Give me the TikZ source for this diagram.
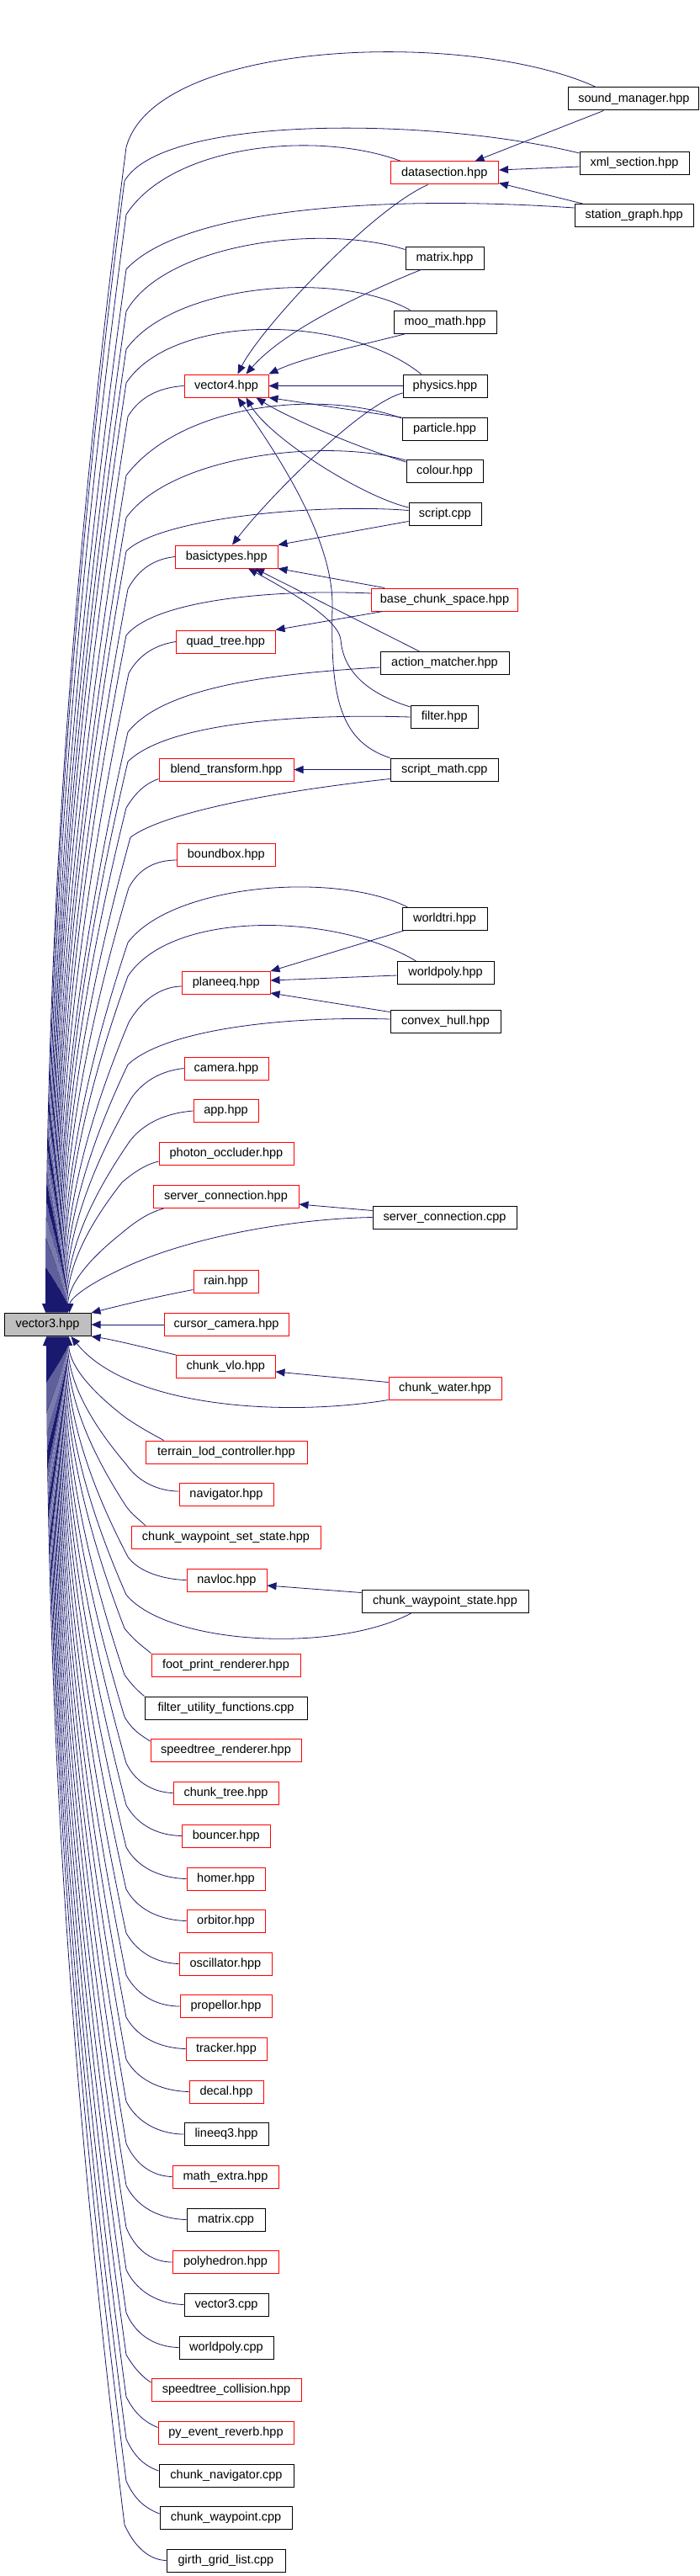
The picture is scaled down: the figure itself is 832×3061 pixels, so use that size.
\documentclass[tikz,border=0pt]{standalone}
\usepackage{fontspec}
\setmainfont{Liberation Sans}
\usetikzlibrary{arrows.meta,calc}
\definecolor{edgeblue}{HTML}{191970}
\definecolor{boxgray}{HTML}{BFBFBF}
% edge to vector3: #1 start, #2 c1, #3 c2, #4 Bx, #5 By, #6 Ex
\newcommand\toV[6]{%
  \ifdim #5pt<1574pt \def\tvEy{1560}\def\tvAnc{north west}\else\def\tvEy{1588}\def\tvAnc{south west}\fi
  \pgfmathsetmacro\tvPax{#4+0.75*(#6-#4)}%
  \pgfmathsetmacro\tvPay{#5+0.4*(\tvEy-#5)}%
  \pgfmathsetmacro\tvPby{\tvEy-0.3*(\tvEy-#5)}%
  \pgfmathsetmacro\tvXs{#6-5}%
  \draw[dep] #1 .. controls #2 and #3 .. (#4,#5) .. controls (\tvPax,\tvPay) and (#6,\tvPby) .. ([xshift=\tvXs pt]v3.\tvAnc);
}
\begin{document}
\begin{tikzpicture}[x=1pt,y=-1pt,
  box/.style={line width=1pt, inner sep=0pt, minimum height=27pt, font=\fontsize{14.5pt}{17pt}\selectfont},
  rbox/.style={box, draw=red, fill=white},
  bbox/.style={box, draw=black, fill=white},
  gbox/.style={box, draw=black, fill=boxgray},
  dep/.style={draw=edgeblue, line width=0.8pt, -{Triangle[length=11pt,width=9pt]}}]
\useasboundingbox (0,0) rectangle (832,3061);
% ---------- nodes ----------
\node[bbox, minimum width=155pt] (sm) at (753.4,117.5) {sound\_manager.hpp};
\node[bbox, minimum width=130pt] (xs) at (754,194) {xml\_section.hpp};
\node[rbox, minimum width=128.5pt] (ds) at (528.25,205.5) {datasection.hpp};
\node[bbox, minimum width=141.5pt] (sg) at (753.75,256) {station\_graph.hpp};
\node[bbox, minimum width=93pt] (mh) at (528.5,306.5) {matrix.hpp};
\node[bbox, minimum width=122pt] (mm) at (529,382.5) {moo\_math.hpp};
\node[rbox, minimum width=100pt] (v4) at (269,458.5) {vector4.hpp};
\node[bbox, minimum width=100pt] (ph) at (529,458.5) {physics.hpp};
\node[bbox, minimum width=101pt] (pa) at (528.5,510) {particle.hpp};
\node[bbox, minimum width=91pt] (co) at (528.5,560) {colour.hpp};
\node[bbox, minimum width=86pt] (sc) at (529,610.5) {script.cpp};
\node[rbox, minimum width=121.5pt] (bt) at (269.25,661.5) {basictypes.hpp};
\node[rbox, minimum width=174pt] (bcs) at (528.5,712.5) {base\_chunk\_space.hpp};
\node[rbox, minimum width=117.4pt] (qt) at (268.3,762.5) {quad\_tree.hpp};
\node[bbox, minimum width=153pt] (am) at (528.5,788) {action\_matcher.hpp};
\node[bbox, minimum width=80.5pt] (fi) at (528.25,852) {filter.hpp};
\node[rbox, minimum width=160pt] (bl) at (269,914.5) {blend\_transform.hpp};
\node[bbox, minimum width=128.5pt] (smc) at (528.25,914.5) {script\_math.cpp};
\node[rbox, minimum width=116.3pt] (bb) at (268.85,1016) {boundbox.hpp};
\node[bbox, minimum width=101pt] (wt) at (528.5,1092) {worldtri.hpp};
\node[bbox, minimum width=115pt] (wph) at (529.5,1156) {worldpoly.hpp};
\node[rbox, minimum width=104.5pt] (pq) at (268.75,1168) {planeeq.hpp};
\node[bbox, minimum width=131pt] (ch) at (529.5,1213.5) {convex\_hull.hpp};
\node[rbox, minimum width=100pt] (ca) at (269,1269.5) {camera.hpp};
\node[rbox, minimum width=77pt] (app) at (268.5,1320) {app.hpp};
\node[rbox, minimum width=160pt] (po) at (269,1370.5) {photon\_occluder.hpp};
\node[rbox, minimum width=173pt] (sch) at (268.5,1422) {server\_connection.hpp};
\node[bbox, minimum width=171pt] (scc) at (528.5,1446.5) {server\_connection.cpp};
\node[rbox, minimum width=77pt] (rain) at (268.5,1522.5) {rain.hpp};
\node[gbox, minimum width=103pt] (v3) at (56.5,1574) {vector3.hpp};
\node[rbox, minimum width=148pt] (cc) at (269,1574) {cursor\_camera.hpp};
\node[rbox, minimum width=117.4pt] (cv) at (268.3,1624) {chunk\_vlo.hpp};
\node[rbox, minimum width=134pt] (cw) at (529,1649.5) {chunk\_water.hpp};
\node[rbox, minimum width=192pt] (tl) at (269,1725.5) {terrain\_lod\_controller.hpp};
\node[rbox, minimum width=112pt] (nv) at (269,1776) {navigator.hpp};
\node[rbox, minimum width=225pt] (cwss) at (268.5,1826.5) {chunk\_waypoint\_set\_state.hpp};
\node[rbox, minimum width=95pt] (nl) at (269.5,1877.5) {navloc.hpp};
\node[bbox, minimum width=198pt] (cws) at (529,1902.5) {chunk\_waypoint\_state.hpp};
\node[rbox, minimum width=177pt] (fp) at (268.5,1978.5) {foot\_print\_renderer.hpp};
\node[bbox, minimum width=193pt] (fu) at (268.5,2029.5) {filter\_utility\_functions.cpp};
\node[rbox, minimum width=179pt] (sr) at (268.5,2080) {speedtree\_renderer.hpp};
\node[rbox, minimum width=125pt] (ct) at (268.5,2130.5) {chunk\_tree.hpp};
\node[rbox, minimum width=104.5pt] (bo) at (268.75,2181.5) {bouncer.hpp};
\node[rbox, minimum width=93pt] (ho) at (268.5,2232.5) {homer.hpp};
\node[rbox, minimum width=93pt] (or) at (268.5,2282.5) {orbitor.hpp};
\node[rbox, minimum width=110pt] (os) at (268,2333.5) {oscillator.hpp};
\node[rbox, minimum width=109pt] (pp) at (268.5,2384) {propellor.hpp};
\node[rbox, minimum width=96pt] (tr) at (269,2434.5) {tracker.hpp};
\node[rbox, minimum width=88pt] (de) at (269,2485.5) {decal.hpp};
\node[bbox, minimum width=100pt] (le) at (269,2536) {lineeq3.hpp};
\node[rbox, minimum width=126pt] (me) at (268,2586.5) {math\_extra.hpp};
\node[bbox, minimum width=93pt] (mc) at (268.5,2637.5) {matrix.cpp};
\node[rbox, minimum width=126pt] (py) at (268,2688) {polyhedron.hpp};
\node[bbox, minimum width=100pt] (vc) at (269,2738.5) {vector3.cpp};
\node[bbox, minimum width=112pt] (wpc) at (269,2789.5) {worldpoly.cpp};
\node[rbox, minimum width=178pt] (stc) at (269,2840) {speedtree\_collision.hpp};
\node[rbox, minimum width=161pt] (pe) at (268.5,2890.5) {py\_event\_reverb.hpp};
\node[bbox, minimum width=160pt] (cn) at (269,2942) {chunk\_navigator.cpp};
\node[bbox, minimum width=157pt] (cwp) at (268.5,2992) {chunk\_waypoint.cpp};
\node[bbox, minimum width=141pt] (gg) at (268.5,3042.5) {girth\_grid\_list.cpp};
% ---------- edges between other nodes ----------
\draw[dep] ([xshift=42pt]sm.south west) -- ([xshift=101pt]ds.north west);
\draw[dep] ([yshift=-4pt]xs.west) -- ([yshift=3.5pt]ds.east);
\draw[dep] ([xshift=10pt]sg.north west) -- ([yshift=2pt]ds.south east);
\draw[dep] ([xshift=45pt]ds.south west) .. controls (440,250) and (310,390) .. ([xshift=64pt]v4.north west);
\draw[dep] ([xshift=19pt]mh.south west) .. controls (440,345) and (340,390) .. ([xshift=74pt]v4.north west);
\draw[dep] ([xshift=15pt]mm.south west) .. controls (430,410) and (360,425) .. (v4.north east);
\draw[dep] (ph.west) -- (v4.east);
\draw[dep] (pa.north west) -- (v4.south east);
\draw[dep] ([yshift=-3pt]co.north west) .. controls (420,530) and (340,495) .. ([xshift=86pt]v4.south west);
\draw[dep] ([yshift=7.5pt]sc.west) .. controls (430,590) and (320,520) .. ([xshift=74pt]v4.south west);
\draw[dep] (smc.north west) .. controls (400,880) and (393,820) .. (395,720) .. controls (396,640) and (330,540) .. ([xshift=64pt]v4.south west);
\draw[dep] ([yshift=-8.5pt]ph.west) .. controls (430,480) and (320,590) .. ([xshift=68pt]bt.north west);
\draw[dep] ([yshift=5pt]sc.south west) -- (bt.north east);
\draw[dep] ([xshift=16pt]bcs.north west) -- (bt.south east);
\draw[dep] ([xshift=47pt]am.north west) -- ([xshift=95pt]bt.south west);
\draw[dep] ([yshift=-2pt]fi.north west) .. controls (440,825) and (408,800) .. (405,760) .. controls (402,735) and (340,700) .. ([xshift=87pt]bt.south west);
\draw[dep] ([xshift=14pt]bcs.south west) -- (qt.north east);
\draw[dep] (smc.west) -- (bl.east);
\draw[dep] ([xshift=2pt]wt.south west) -- (pq.north east);
\draw[dep] ([yshift=-3pt]wph.west) -- ([yshift=3pt]pq.east);
\draw[dep] ([yshift=-3pt]ch.north west) -- ([yshift=2pt]pq.south east);
\draw[dep] ([yshift=-6pt]scc.north west) -- ([yshift=5pt]sch.south east);
\draw[dep] ([yshift=-7pt]cw.north west) -- ([yshift=-6pt]cv.east);
\draw[dep] ([yshift=-4pt]cws.north west) -- ([yshift=-6.5pt]nl.east);
% ---------- edges to vector3 (from above) ----------
\toV{([xshift=33pt]sm.north west)}{(560,35)}{(185,45)}{150}{175}{55}
\toV{([yshift=-2pt]xs.north west)}{(520,140)}{(195,135)}{148}{215}{56}
\toV{([xshift=13pt]ds.north west)}{(380,155)}{(205,170)}{150}{255}{57}
\toV{([yshift=-5pt]sg.north west)}{(470,232)}{(220,245)}{150}{320}{58}
\toV{([yshift=-4pt]mh.north west)}{(380,265)}{(195,290)}{150}{370}{59}
\toV{([xshift=20pt]mm.north west)}{(400,320)}{(205,338)}{150}{415}{60}
\toV{([xshift=22pt]ph.north west)}{(410,372)}{(205,372)}{150}{455}{61}
\toV{(v4.west)}{(195,460)}{(168,468)}{152}{495}{62}
\toV{([yshift=-1pt]pa.north west)}{(380,462)}{(215,480)}{150}{565}{63}
\toV{([yshift=-1pt]co.north west)}{(390,520)}{(205,540)}{150}{615}{64}
\toV{([yshift=-10pt]sc.north west)}{(380,598)}{(190,615)}{150}{655}{65}
\toV{(bt.west)}{(185,664)}{(165,675)}{152}{700}{66}
\toV{([yshift=7.5pt]bcs.west)}{(330,700)}{(185,712)}{150}{755}{67}
\toV{(qt.west)}{(185,766)}{(165,778)}{153}{800}{68}
\toV{([yshift=-5pt]am.west)}{(330,800)}{(195,815)}{152}{870}{69}
\toV{(fi.west)}{(360,848)}{(200,858)}{152}{905}{70}
\toV{([yshift=3pt]bl.south west)}{(175,930)}{(162,940)}{150}{960}{71}
\toV{([yshift=3pt]smc.south west)}{(330,940)}{(195,965)}{155}{995}{72}
\toV{([yshift=-6pt]bb.west)}{(185,1022)}{(165,1032)}{153}{1055}{73}
\toV{([xshift=7pt]wt.north west)}{(400,1035)}{(205,1050)}{152}{1120}{74}
\toV{([xshift=23pt]wph.north west)}{(400,1085)}{(205,1080)}{152}{1160}{75}
\toV{([yshift=-4pt]pq.west)}{(195,1172)}{(170,1185)}{153}{1215}{76}
\toV{([yshift=2.5pt]ch.west)}{(330,1207)}{(195,1225)}{152}{1265}{77}
\toV{(ca.west)}{(195,1272)}{(172,1282)}{156}{1305}{78}
\toV{(app.west)}{(205,1322)}{(175,1330)}{155}{1355}{79}
\toV{([yshift=-9.5pt]po.west)}{(175,1383)}{(160,1392)}{145}{1405}{80}
\toV{([xshift=13pt]sch.south west)}{(180,1440)}{(165,1448)}{145}{1465}{81}
\toV{(scc.west)}{(350,1448)}{(220,1470)}{140}{1510}{83}
\draw[dep] ([yshift=4pt]rain.south west) .. controls (180,1542) and (140,1552) .. (v3.north east);
\draw[dep] (cc.west) -- (v3.east);
% ---------- edges to vector3 (from below) ----------
\draw[dep] (cv.north west) .. controls (180,1603) and (135,1592) .. (v3.south east);
\draw[dep] (cw.south west) .. controls (330,1685) and (150,1670) .. ([xshift=80pt]v3.south west);
\toV{([xshift=22pt]tl.north west)}{(187,1707)}{(172,1700)}{150}{1685}{82}
\toV{([yshift=4pt]nv.west)}{(190,1772)}{(165,1762)}{150}{1740}{81}
\toV{([xshift=17pt]cwss.north west)}{(166,1806)}{(157,1800)}{150}{1790}{80}
\toV{(nl.west)}{(195,1877)}{(165,1868)}{152}{1850}{79}
\toV{([xshift=60pt]cws.south west)}{(400,1965)}{(200,1955)}{150}{1895}{78}
\toV{(fp.north west)}{(172,1958)}{(162,1952)}{148}{1935}{77}
\toV{(fu.north west)}{(165,2010)}{(157,2003)}{148}{1990}{76}
\toV{([yshift=-3pt]sr.north west)}{(168,2062)}{(158,2057)}{148}{2040}{75}
\toV{(ct.west)}{(185,2130)}{(162,2120)}{150}{2095}{74}
\toV{(bo.west)}{(190,2181)}{(165,2171)}{150}{2145}{73}
\toV{(ho.west)}{(195,2232)}{(165,2222)}{150}{2195}{72}
\toV{(or.west)}{(195,2282)}{(165,2272)}{150}{2245}{71}
\toV{(os.west)}{(190,2333)}{(165,2323)}{150}{2297}{70}
\toV{(pp.west)}{(190,2384)}{(165,2374)}{150}{2347}{69}
\toV{(tr.west)}{(195,2434)}{(165,2424)}{150}{2397}{68}
\toV{(de.west)}{(198,2485)}{(165,2475)}{150}{2447}{67}
\toV{(le.west)}{(195,2536)}{(165,2526)}{150}{2497}{66}
\toV{(me.west)}{(185,2586)}{(163,2576)}{150}{2547}{65}
\toV{(mc.west)}{(196,2637)}{(165,2627)}{150}{2597}{64}
\toV{(py.west)}{(185,2688)}{(163,2678)}{150}{2647}{63}
\toV{(vc.west)}{(195,2738)}{(165,2728)}{150}{2697}{62}
\toV{(wpc.west)}{(190,2789)}{(163,2779)}{150}{2748}{61}
\toV{([yshift=-5pt]stc.north west)}{(170,2825)}{(160,2815)}{150}{2798}{60}
\toV{([yshift=-8pt]pe.north west)}{(172,2878)}{(160,2868)}{150}{2848}{59}
\toV{([yshift=-8pt]cn.north west)}{(172,2930)}{(160,2920)}{150}{2898}{58}
\toV{([yshift=-9pt]cwp.north west)}{(172,2980)}{(160,2970)}{150}{2948}{57}
\toV{(gg.west)}{(178,3042)}{(160,3027)}{148}{3000}{56}
\end{tikzpicture}
\end{document}
